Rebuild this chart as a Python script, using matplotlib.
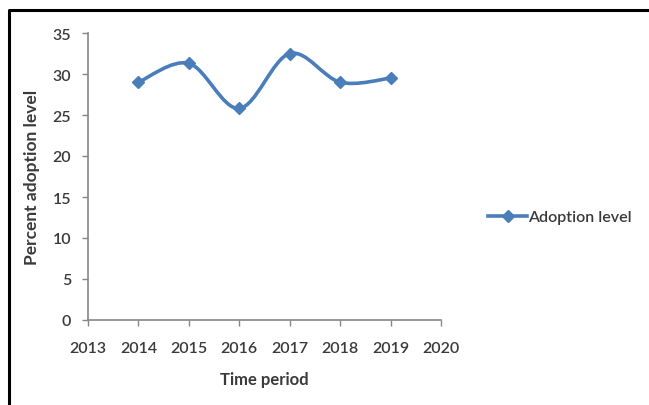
import matplotlib
matplotlib.use("Agg")
from matplotlib import pyplot as plt
from matplotlib.path import Path
from matplotlib.patches import PathPatch
from matplotlib.lines import Line2D

plt.rcParams['font.family'] = ['Lato', 'DejaVu Sans']

# data
years = [2014, 2015, 2016, 2017, 2018, 2019]
adoption = [29.0, 31.3, 25.8, 32.5, 29.0, 29.5]
series_name = 'Adoption level'
x_ticks = [2013, 2014, 2015, 2016, 2017, 2018, 2019, 2020]
y_ticks = [0, 5, 10, 15, 20, 25, 30, 35]

blue = '#4a7ebb'
grey = '#868686'
text_col = '#3a3a3a'

fig = plt.figure(figsize=(6.49, 4.06), dpi=100)
ax = fig.add_axes([88/649, 1-321/406, (441-88)/649, (321-34)/406])

# smoothed line like excel (catmull-rom -> bezier)
verts = [(years[0], adoption[0])]
codes = [Path.MOVETO]
n = len(years)
for i in range(n - 1):
    p0 = (years[max(i-1, 0)], adoption[max(i-1, 0)])
    p1 = (years[i], adoption[i])
    p2 = (years[i+1], adoption[i+1])
    p3 = (years[min(i+2, n-1)], adoption[min(i+2, n-1)])
    c1 = (p1[0] + (p2[0]-p0[0])/6, p1[1] + (p2[1]-p0[1])/6)
    c2 = (p2[0] - (p3[0]-p1[0])/6, p2[1] - (p3[1]-p1[1])/6)
    verts += [c1, c2, p2]
    codes += [Path.CURVE4]*3
ax.add_patch(PathPatch(Path(verts, codes), fill=False, edgecolor=blue, lw=2.6,
                       capstyle='round', joinstyle='round'))
ax.plot(years, adoption, linestyle='none', marker='D', markersize=6.5,
        color=blue)

ax.set_xlim(2013, 2020)
ax.set_ylim(0, 35)
ax.set_xticks(x_ticks)
ax.set_yticks(y_ticks)
ax.tick_params(direction='out', color=grey, length=4, width=1,
               labelcolor=text_col, labelsize=11.5)
for lbl in ax.get_xticklabels() + ax.get_yticklabels():
    lbl.set_fontweight('semibold')
ax.tick_params(axis='x', pad=11)
ax.tick_params(axis='y', pad=8)
for s in ['top', 'right']:
    ax.spines[s].set_visible(False)
for s in ['left', 'bottom']:
    ax.spines[s].set_color(grey)
    ax.spines[s].set_linewidth(1.2)

ax.set_xlabel('Time period', fontsize=12, fontweight='bold', color=text_col,
              labelpad=12)
ax.set_ylabel('Percent adoption level', fontsize=12.5, fontweight='bold',
              color=text_col, labelpad=9)

handle = Line2D([], [], color=blue, lw=2.6, marker='D', markersize=6.5)
leg = fig.legend([handle], [series_name], loc='center left',
                 bbox_to_anchor=(474/649, 1-218/406), frameon=False,
                 fontsize=11.5, handlelength=2.4, handletextpad=0.1,
                 labelcolor=text_col)
for t in leg.get_texts():
    t.set_fontweight('semibold')

# outer border
fig.add_artist(Line2D([9/649, 9/649, 1.01], [-0.01, 1-11/406, 1-11/406],
                      transform=fig.transFigure, color='black', lw=2.2))

fig.savefig('out.png', dpi=100)
